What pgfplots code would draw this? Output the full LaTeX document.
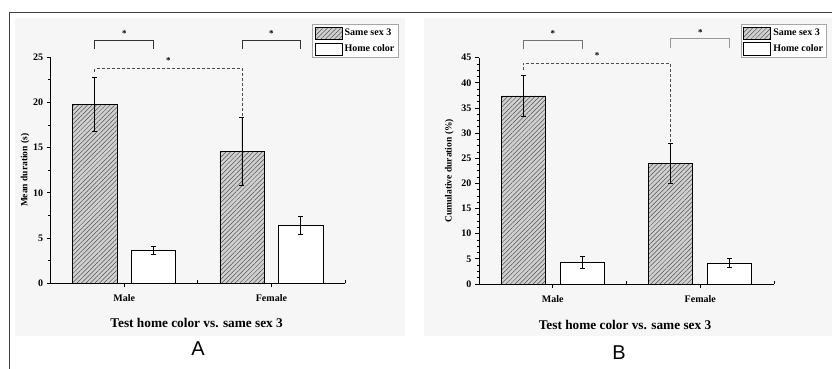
\documentclass[border=0pt]{standalone}
\usepackage{pgfplots}
\pgfplotsset{compat=1.18}
\usetikzlibrary{patterns.meta}
\usepackage{fontspec}
\setmainfont{Liberation Serif}
\newfontfamily\arialfont{Liberation Sans}

\definecolor{panelbg}{RGB}{246,246,246}
\definecolor{hatchbg}{RGB}{208,208,208}
\definecolor{hatchln}{RGB}{80,80,80}

\pgfplotsset{
 panel/.style={
  scale only axis,
  axis x line=bottom, axis y line=left,
  axis line style={-, line width=0.8pt, black},
  xmin=-0.5, xmax=1.5, ymin=0,
  xtick={0,1}, xticklabels={Male,Female},
  extra x ticks={0.5,1.5}, extra x tick labels={},
  extra x tick style={tick align=inside, major tick length=3pt},
  tick align=outside, major tick length=4pt, minor tick length=2.5pt,
  tick style={black, line width=0.8pt},
  /pgf/number format/assume math mode=true,
  tick label style={font=\bfseries\fontsize{10}{11}\selectfont},
  x tick label style={yshift=-4pt, font=\bfseries\fontsize{10}{11}\selectfont},
  clip=false,
  legend cell align=left,
  legend image code/.code={\draw[##1] (0pt,-6.2pt) rectangle (27pt,6.2pt);},
  legend style={anchor=north west, draw=gray!70, line width=1pt, fill=white,
    font=\bfseries\fontsize{10}{11}\selectfont, inner sep=2pt, row sep=2.5pt},
  ylabel style={font=\bfseries\fontsize{9.5}{11}\selectfont, anchor=center},
  xlabel style={font=\bfseries\fontsize{13.3}{15}\selectfont, anchor=center},
 },
 same/.style={ybar, bar width=0.3, bar shift=0, draw=black, line width=0.8pt,
   preaction={fill=hatchbg},
   pattern={Lines[angle=45,distance=3.2pt,line width=0.5pt]}, pattern color=hatchln,
   error bars/.cd, y dir=both, y explicit,
   error bar style={line width=0.9pt,black},
   error mark options={rotate=90, mark size=2.5pt, line width=0.9pt, black}},
 home/.style={ybar, bar width=0.3, bar shift=0, draw=black, line width=0.8pt, fill=white,
   error bars/.cd, y dir=both, y explicit,
   error bar style={line width=0.9pt,black},
   error mark options={rotate=90, mark size=2.5pt, line width=0.9pt, black}},
}

\begin{document}
\begin{tikzpicture}[x=1pt,y=1pt]
\useasboundingbox (0,0) rectangle (832,369);
\fill[panelbg] (15,33) rectangle (405,351);
\fill[panelbg] (424,33) rectangle (832,351);
\draw[line width=1pt, black!75] (9.5,0) -- (9.5,356.3) -- (832,356.3);

% Panel A
\begin{axis}[panel, at={(50.7pt,85.7pt)}, anchor=south west,
  width=294.3pt, height=226pt,
  ymax=25, ytick={0,5,...,25}, minor y tick num=1,
  ylabel={Mean duration (s)},
  ylabel style={at={(rel axis cs:-0.0873,0.5)}},
  xlabel={Test home color vs. same sex 3},
  xlabel style={at={(rel axis cs:0.496,-0.177)}},
  legend style={at={(0.889,1.146)}},
]
\addplot[same] coordinates {(-0.2,19.8) +- (0,3.0) (0.8,14.55) +- (0,3.75)};
\addplot[home] coordinates {(0.2,3.6) +- (0,0.45) (1.2,6.4) +- (0,1.0)};
\legend{Same sex 3, Home color}
\draw[line width=0.8pt, black!80] (axis cs:-0.2,25.9) -- (axis cs:-0.2,26.9) -- (axis cs:0.2,26.9) -- (axis cs:0.2,25.9);
\draw[line width=0.8pt, black!80] (axis cs:0.8,25.9) -- (axis cs:0.8,26.9) -- (axis cs:1.2,26.9) -- (axis cs:1.2,25.9);
\draw[line width=0.8pt, black!70, dash pattern=on 3pt off 2pt] (axis cs:-0.2,23.4) -- (axis cs:-0.2,23.75) -- (axis cs:0.8,23.75) -- (axis cs:0.8,18.3);
\node[font=\bfseries\fontsize{9}{10}\selectfont] at (axis cs:0,27.6) {*};
\node[font=\bfseries\fontsize{9}{10}\selectfont] at (axis cs:1,27.6) {*};
\node[font=\bfseries\fontsize{9}{10}\selectfont] at (axis cs:0.3,24.6) {*};
\end{axis}

% Panel B
\begin{axis}[panel, at={(479pt,85pt)}, anchor=south west,
  width=295pt, height=226.3pt,
  ymax=45, ytick={0,5,...,45}, minor y tick num=3,
  ylabel={Cumulative duration (\%)},
  ylabel style={at={(rel axis cs:-0.1007,0.5)}},
  xlabel={Test home color vs. same sex 3},
  xlabel style={at={(rel axis cs:0.495,-0.181)}},
  legend style={at={(0.888,1.1476)}},
]
\addplot[same] coordinates {(-0.2,37.4) +- (0,4.0) (0.8,23.95) +- (0,3.95)};
\addplot[home] coordinates {(0.2,4.3) +- (0,1.15) (1.2,4.15) +- (0,0.9)};
\legend{Same sex 3, Home color}
\draw[line width=0.8pt, black!55] (axis cs:-0.2,46.7) -- (axis cs:-0.2,48.5) -- (axis cs:0.2,48.5) -- (axis cs:0.2,46.7);
\draw[line width=0.8pt, black!40] (axis cs:0.8,46.9) -- (axis cs:0.8,48.8) -- (axis cs:1.2,48.8) -- (axis cs:1.2,46.9);
\draw[line width=0.8pt, black!70, dash pattern=on 3pt off 2pt] (axis cs:-0.2,42.5) -- (axis cs:-0.2,43.9) -- (axis cs:0.8,43.9) -- (axis cs:0.8,27.9);
\node[font=\bfseries\fontsize{9}{10}\selectfont] at (axis cs:0,49.8) {*};
\node[font=\bfseries\fontsize{9}{10}\selectfont] at (axis cs:1,50.0) {*};
\node[font=\bfseries\fontsize{9}{10}\selectfont] at (axis cs:0.3,45.4) {*};
\end{axis}

\node[font=\arialfont\fontsize{20}{22}\selectfont] at (198,20) {A};
\node[font=\arialfont\fontsize{20}{22}\selectfont] at (619,16.5) {B};
\end{tikzpicture}
\end{document}
